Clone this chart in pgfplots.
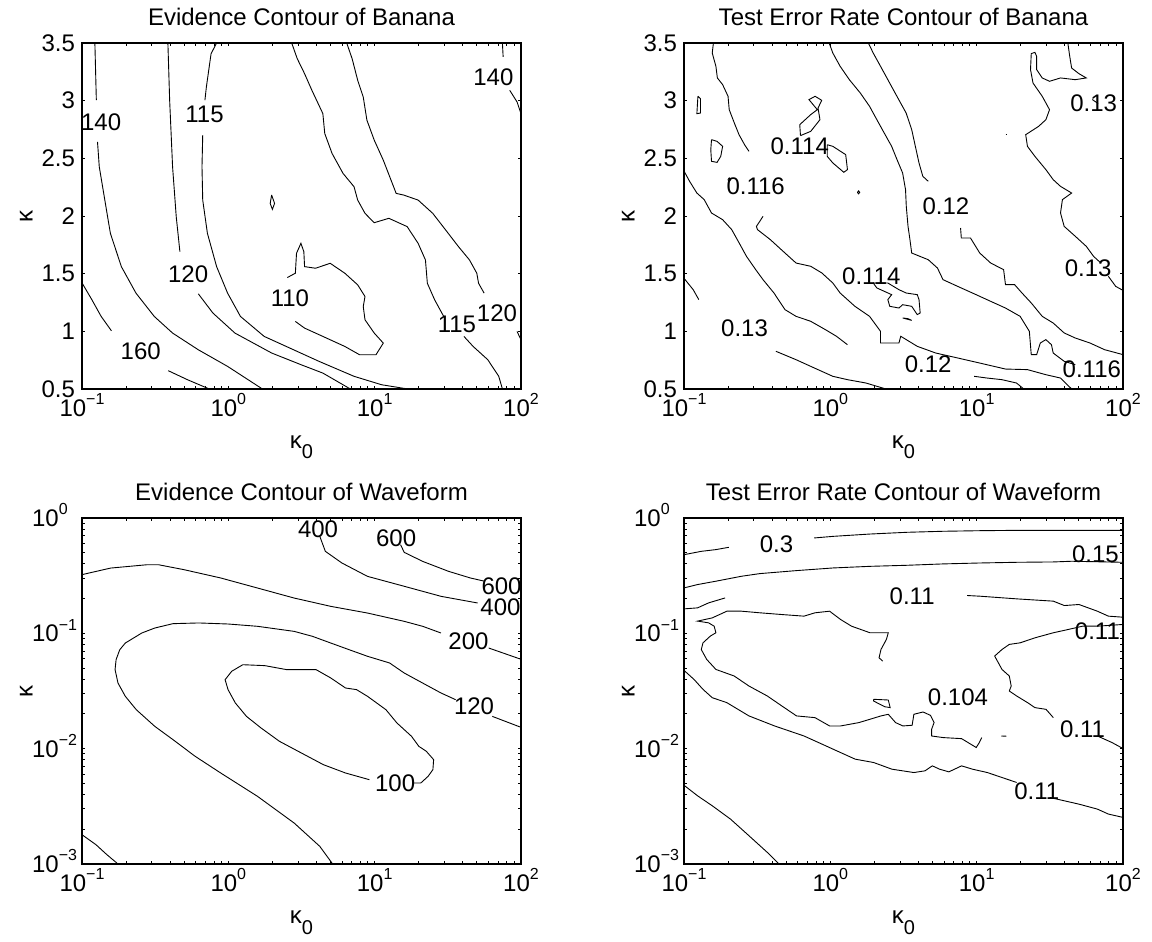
\documentclass[border=0pt]{standalone}
\usepackage{fontspec}
\setmainfont{Liberation Sans}
\usepackage{pgfplots}
\pgfplotsset{compat=1.18}

% power-of-ten tick label with a raised exponent
\newcommand\pw[1]{10\raisebox{5.8pt}{\fontsize{8}{9}\selectfont#1}}

% Both axes are drawn on log10 scales: x holds log10(kappa_0), and in the
% Waveform panels y holds log10(kappa). Tick labels show the powers of ten.
\pgfplotsset{
  panel/.style={
    scale only axis, width=219.5pt, height=173pt,
    clip=false,
    axis line style={line width=0.7pt},
    tick style={black, line width=0.5pt},
    major tick length=1.6pt, minor tick length=1.6pt,
    tick align=inside,
    xmin=-1, xmax=2,
    xtick={-1,0,1,2},
    xticklabels={\pw{−1},\pw{0},\pw{1},\pw{2}},
    minor xtick={-0.699,-0.523,-0.398,-0.301,-0.222,-0.155,-0.097,-0.046,
                 0.301,0.477,0.602,0.699,0.778,0.845,0.903,0.954,
                 1.301,1.477,1.602,1.699,1.778,1.845,1.903,1.954},
    xticklabel style={anchor=base, yshift=-13.6pt},
    xlabel={κ\raisebox{-5.5pt}{\fontsize{10}{11}\selectfont 0}},
    ylabel={κ},
    every axis x label/.style={at={(axis description cs:0.5,0)}, anchor=base, yshift=-29.5pt},
    every axis y label/.style={at={(axis description cs:-0.127,0.5)}, anchor=center, rotate=90},
    every axis title/.style={at={(axis description cs:0.5,1)}, anchor=base, yshift=8.8pt},
    cycle list={{black}},
    no markers,
    every axis plot/.append style={black, line width=0.45pt},
  },
  linpanel/.style={
    ymin=0.5, ymax=3.5,
    ytick={0.5,1,1.5,2,2.5,3,3.5},
    yticklabels={0.5,1,1.5,2,2.5,3,3.5},
  },
  logpanel/.style={
    ymin=-3, ymax=0,
    ytick={-3,-2,-1,0},
    yticklabels={\pw{−3},\pw{−2},\pw{−1},\pw{0}},
    minor ytick={-2.699,-2.523,-2.398,-2.301,-2.222,-2.155,-2.097,-2.046,
                 -1.699,-1.523,-1.398,-1.301,-1.222,-1.155,-1.097,-1.046,
                 -0.699,-0.523,-0.398,-0.301,-0.222,-0.155,-0.097,-0.046},
    yticklabel style={anchor=base west, xshift=-28.5pt, yshift=-4.2pt},
  },
}

\begin{document}
\begin{tikzpicture}[font=\fontsize{12}{14}\selectfont]
\useasboundingbox (0,0) rectangle (576pt,-471pt);

% ---------------- Evidence, Banana ----------------
\begin{axis}[panel, linpanel, at={(41pt,-21.5pt)}, anchor=north west,
  title={Evidence Contour of Banana}]
\addplot coordinates {(-0.912,3.5) (-0.902,3.004)};
\addplot coordinates {(-0.894,2.643) (-0.882,2.427) (-0.844,2.138) (-0.806,1.85) (-0.731,1.561) (-0.631,1.331) (-0.506,1.129) (-0.381,0.985) (-0.205,0.84) (-0.005,0.696) (0.233,0.5)};
\addplot coordinates {(-0.413,3.5) (-0.401,3.004) (-0.381,2.427) (-0.356,1.994) (-0.331,1.691)};
\addplot coordinates {(-0.205,1.325) (-0.105,1.158) (0.045,0.985) (0.296,0.812) (0.496,0.711) (0.646,0.638) (0.834,0.5)};
\addplot coordinates {(-0.08,3.5) (-0.118,3.407) (-0.15,3.119) (-0.16,3.004)};
\addplot coordinates {(-0.175,2.701) (-0.18,2.427) (-0.175,2.138) (-0.143,1.85) (-0.08,1.561) (-0.005,1.331) (0.083,1.129) (0.245,0.956) (0.446,0.84) (0.621,0.739) (0.859,0.61) (1.047,0.537) (1.227,0.5)};
\addplot coordinates {(0.403,1.466) (0.458,1.504) (0.466,1.677) (0.496,1.763) (0.516,1.691) (0.521,1.561) (0.596,1.547) (0.696,1.59) (0.796,1.504) (0.884,1.403) (0.934,1.302) (0.922,1.215) (0.934,1.1) (0.997,0.985) (1.059,0.898) (1.009,0.797) (0.897,0.797) (0.796,0.869) (0.646,0.956) (0.521,1.028) (0.458,1.086)};
\addplot coordinates {(0.296,2.182) (0.316,2.109) (0.301,2.058) (0.286,2.109) (0.296,2.182)};
\addplot coordinates {(0.433,3.5) (0.471,3.364) (0.521,3.234) (0.571,3.09) (0.646,2.888) (0.659,2.715) (0.709,2.542) (0.784,2.369) (0.859,2.254) (0.884,2.138) (0.934,2.023) (0.997,1.942) (1.097,1.98) (1.222,1.908) (1.297,1.763) (1.347,1.619) (1.36,1.417) (1.41,1.273) (1.472,1.129)};
\addplot coordinates {(1.61,0.956) (1.673,0.869) (1.773,0.754) (1.848,0.61) (1.873,0.5)};
\addplot coordinates {(0.809,3.5) (0.846,3.364) (0.884,3.177) (0.922,3.032) (0.947,2.831) (0.997,2.658) (1.059,2.484) (1.147,2.196) (1.197,2.182) (1.297,2.138) (1.397,2.023) (1.485,1.879) (1.573,1.734) (1.648,1.619) (1.698,1.504) (1.71,1.417) (1.748,1.331)};
\addplot coordinates {(1.973,0.999) (2.0,0.927)};
\addplot coordinates {(1.873,3.5) (1.878,3.379)};
\addplot coordinates {(1.923,3.09) (1.973,2.989) (2.0,2.888)};
\addplot coordinates {(-1,1.42) (-0.932,1.273) (-0.869,1.129) (-0.799,1.005)};
\addplot coordinates {(-0.411,0.659) (-0.28,0.581) (-0.13,0.5)};
\node at (axis cs:-0.869,2.816) {140};
\node at (axis cs:-0.163,2.88) {115};
\node at (axis cs:-0.275,1.498) {120};
\node at (axis cs:0.421,1.287) {110};
\node at (axis cs:-0.599,0.826) {160};
\node at (axis cs:1.562,1.057) {115};
\node at (axis cs:1.836,1.158) {120};
\node at (axis cs:1.811,3.205) {140};
\end{axis}

% ---------------- Test error, Banana ----------------
\begin{axis}[panel, linpanel, at={(342pt,-21.5pt)}, anchor=north west,
  title={Test Error Rate Contour of Banana}]
\addplot coordinates {(-0.799,3.5) (-0.807,3.413) (-0.782,3.298) (-0.772,3.197) (-0.736,3.139) (-0.699,3.038) (-0.691,2.922) (-0.656,2.806) (-0.624,2.705) (-0.586,2.618) (-0.556,2.561)};
\addplot coordinates {(-0.905,3.038) (-0.887,3.017) (-0.887,2.893) (-0.912,2.887) (-0.905,3.038)};
\addplot coordinates {(-0.812,2.662) (-0.774,2.647) (-0.736,2.604) (-0.749,2.517) (-0.774,2.465) (-0.812,2.474) (-0.817,2.575) (-0.812,2.662)};
\addplot coordinates {(-0.204,2.697) (-0.209,2.792) (-0.134,2.879) (-0.089,2.922) (-0.146,3.009) (-0.104,3.038) (-0.059,3.003) (-0.084,2.936) (-0.071,2.835) (-0.134,2.734) (-0.204,2.697)};
\addplot coordinates {(-0.021,2.618) (0.017,2.604) (0.105,2.532) (0.117,2.402) (0.092,2.379) (0.017,2.46) (-0.021,2.517) (-0.021,2.618)};
\addplot coordinates {(-0.7,2.315) (-0.691,2.33) (-0.682,2.315) (-0.691,2.3) (-0.7,2.315)};
\addplot coordinates {(0.185,2.205) (0.193,2.218) (0.201,2.205) (0.193,2.192) (0.185,2.205)};
\addplot coordinates {(1.198,2.705) (1.206,2.705)};
\addplot coordinates {(0.26,3.5) (0.293,3.413) (0.343,3.298) (0.393,3.182) (0.455,3.038) (0.518,2.893) (0.556,2.749) (0.581,2.604) (0.606,2.46) (0.632,2.344) (0.669,2.301)};
\addplot coordinates {(0.89,1.896) (0.895,1.809) (0.958,1.809) (1.021,1.679) (1.096,1.592) (1.184,1.535) (1.197,1.405) (1.259,1.405) (1.31,1.332) (1.373,1.246) (1.448,1.13) (1.523,1.072) (1.598,0.986) (1.674,0.942) (1.774,0.899) (1.874,0.841) (2.0,0.798)};
\addplot coordinates {(-0.008,3.5) (0.017,3.413) (0.067,3.298) (0.13,3.182) (0.205,3.066) (0.268,2.951) (0.318,2.835) (0.368,2.72) (0.419,2.604) (0.456,2.488) (0.494,2.373) (0.514,2.228) (0.519,2.084) (0.531,1.91) (0.544,1.795) (0.556,1.679) (0.669,1.621) (0.732,1.549) (0.77,1.448) (0.87,1.39) (0.996,1.318) (1.096,1.26) (1.197,1.202) (1.297,1.13) (1.36,1.0) (1.373,0.798) (1.41,0.798) (1.435,0.899) (1.473,0.928) (1.511,0.884) (1.523,0.812) (1.598,0.74) (1.674,0.711)};
\addplot coordinates {(-1,2.39) (-0.962,2.301) (-0.912,2.199) (-0.862,2.142) (-0.812,2.026) (-0.736,1.968) (-0.674,1.882) (-0.623,1.766) (-0.573,1.65) (-0.51,1.535) (-0.46,1.448) (-0.385,1.332) (-0.31,1.188) (-0.234,1.13) (-0.134,1.087) (-0.033,1.014) (0.042,0.957) (0.117,0.884)};
\addplot coordinates {(-0.46,1.997) (-0.505,1.91) (-0.498,1.882) (-0.41,1.795) (-0.335,1.708) (-0.234,1.592) (-0.134,1.564) (-0.058,1.506) (0.017,1.419) (0.067,1.332) (0.168,1.217) (0.268,1.13) (0.343,1.0) (0.343,0.899) (0.469,0.899) (0.481,0.957) (0.519,0.928) (0.594,0.87) (0.72,0.812) (0.87,0.769) (1.021,0.725) (1.197,0.673) (1.347,0.668) (1.473,0.624) (1.573,0.595) (1.649,0.5)};
\addplot coordinates {(-1,1.46) (-0.937,1.361) (-0.899,1.275)};
\addplot coordinates {(-0.372,0.827) (-0.234,0.754) (-0.109,0.682) (0.017,0.61) (0.117,0.581) (0.243,0.552) (0.38,0.5)};
\addplot coordinates {(0.983,0.61) (1.071,0.595) (1.172,0.581) (1.272,0.552) (1.322,0.5)};
\addplot coordinates {(0.293,1.419) (0.393,1.419) (0.469,1.361) (0.519,1.332) (0.594,1.318) (0.606,1.275) (0.614,1.159) (0.594,1.145) (0.556,1.217) (0.494,1.231) (0.469,1.202) (0.406,1.217) (0.393,1.275) (0.419,1.318) (0.318,1.376) (0.293,1.419)};
\addplot coordinates {(0.494,1.116) (0.556,1.095) (0.53,1.11) (0.494,1.116)};
\addplot coordinates {(1.623,3.5) (1.636,3.384) (1.649,3.283) (1.699,3.234) (1.749,3.197) (1.674,3.182) (1.573,3.197) (1.498,3.168) (1.448,3.197) (1.41,3.269) (1.41,3.384) (1.398,3.419) (1.373,3.408) (1.368,3.269) (1.385,3.153) (1.448,3.038) (1.498,2.922) (1.473,2.835) (1.423,2.777) (1.335,2.705) (1.347,2.604) (1.398,2.517) (1.473,2.402) (1.523,2.315) (1.573,2.257) (1.649,2.199) (1.586,2.142) (1.573,2.026) (1.598,1.91) (1.674,1.824) (1.749,1.737) (1.799,1.65) (1.849,1.592)};
\addplot coordinates {(1.9,1.477) (1.95,1.39) (2.0,1.355)};
\addplot coordinates {(1.79,3.01) (1.83,2.975)};
\node at (axis cs:-0.209,2.604) {0.114};
\node at (axis cs:-0.51,2.257) {0.116};
\node at (axis cs:0.79,2.084) {0.12};
\node at (axis cs:1.8,2.98) {0.13};
\node at (axis cs:1.762,1.549) {0.13};
\node at (axis cs:0.28,1.477) {0.114};
\node at (axis cs:-0.586,1.029) {0.13};
\node at (axis cs:0.669,0.711) {0.12};
\node at (axis cs:1.787,0.668) {0.116};
\end{axis}

% ---------------- Evidence, Waveform ----------------
\begin{axis}[panel, logpanel, at={(41pt,-259pt)}, anchor=north west,
  title={Evidence Contour of Waveform}]
\addplot coordinates {(0.625,-0.159) (0.663,-0.289) (0.776,-0.39) (0.951,-0.506) (1.202,-0.592) (1.453,-0.679) (1.704,-0.737)};
\addplot coordinates {(1.177,-0.231) (1.202,-0.298) (1.328,-0.376) (1.504,-0.462) (1.654,-0.52) (1.754,-0.549)};
\addplot coordinates {(-1,-0.491) (-0.804,-0.434) (-0.554,-0.405) (-0.478,-0.405) (-0.303,-0.448) (-0.052,-0.52) (0.199,-0.607) (0.45,-0.694) (0.7,-0.766) (0.951,-0.824) (1.202,-0.896) (1.328,-0.939) (1.453,-0.997)};
\addplot coordinates {(1.779,-1.127) (2.0,-1.225)};
\addplot coordinates {(2.0,-1.815) (1.804,-1.72)};
\addplot coordinates {(1.553,-1.575) (1.453,-1.517) (1.328,-1.431) (1.202,-1.344) (1.102,-1.257) (0.951,-1.199) (0.826,-1.142) (0.7,-1.084) (0.575,-1.026) (0.45,-0.983) (0.199,-0.939) (-0.002,-0.919) (-0.202,-0.91) (-0.378,-0.916) (-0.503,-0.954) (-0.591,-0.997) (-0.704,-1.084) (-0.742,-1.142) (-0.767,-1.228) (-0.774,-1.315) (-0.754,-1.431) (-0.704,-1.546) (-0.629,-1.662) (-0.503,-1.806) (-0.378,-1.922) (-0.227,-2.066) (-0.052,-2.211) (0.199,-2.413) (0.45,-2.645) (0.625,-2.847) (0.713,-3.0)};
\addplot coordinates {(0.964,-2.269) (0.801,-2.211) (0.65,-2.139) (0.5,-2.038) (0.349,-1.936) (0.224,-1.821) (0.124,-1.72) (0.048,-1.604) (-0.002,-1.488) (-0.022,-1.402) (0.023,-1.329) (0.099,-1.272) (0.249,-1.28) (0.4,-1.315) (0.6,-1.315) (0.7,-1.387) (0.801,-1.474) (0.876,-1.488) (0.951,-1.546) (1.077,-1.662) (1.152,-1.777) (1.252,-1.893) (1.302,-1.98) (1.353,-2.023) (1.403,-2.095) (1.398,-2.182) (1.365,-2.24) (1.315,-2.298) (1.265,-2.298)};
\addplot coordinates {(-1,-2.746) (-0.905,-2.832) (-0.83,-2.919) (-0.754,-3.0)};
\node at (axis cs:0.613,-0.101) {400};
\node at (axis cs:1.147,-0.173) {600};
\node at (axis cs:1.867,-0.592) {600};
\node at (axis cs:1.86,-0.775) {400};
\node at (axis cs:1.641,-1.069) {200};
\node at (axis cs:1.679,-1.633) {120};
\node at (axis cs:1.14,-2.298) {100};
\end{axis}

% ---------------- Test error, Waveform ----------------
\begin{axis}[panel, logpanel, at={(342pt,-259pt)}, anchor=north west,
  title={Test Error Rate Contour of Waveform}]
\addplot coordinates {(-1,-0.318) (-0.882,-0.289) (-0.782,-0.274) (-0.694,-0.254)};
\addplot coordinates {(-0.11,-0.173) (0.02,-0.159) (0.271,-0.139) (0.521,-0.124) (0.772,-0.115) (1.023,-0.11) (1.273,-0.107) (2.0,-0.107)};
\addplot coordinates {(-1,-0.606) (-0.907,-0.577) (-0.782,-0.548) (-0.607,-0.505) (-0.481,-0.482) (-0.231,-0.456) (0.02,-0.433) (0.271,-0.419) (0.521,-0.41) (0.772,-0.398) (1.023,-0.39) (1.273,-0.384) (1.524,-0.381) (1.649,-0.375) (2.0,-0.384)};
\addplot coordinates {(-1,-0.788) (-0.907,-0.779) (-0.832,-0.736) (-0.719,-0.693)};
\addplot coordinates {(0.935,-0.672) (1.023,-0.678) (1.273,-0.701) (1.524,-0.721) (1.599,-0.759) (1.699,-0.75) (1.825,-0.808) (1.9,-0.851) (2.0,-0.86)};
\addplot coordinates {(0.358,-1.241) (0.333,-1.212) (0.346,-1.14) (0.383,-1.053) (0.396,-0.995) (0.271,-0.995) (0.145,-0.938) (0.07,-0.88) (-0.005,-0.808) (-0.105,-0.822) (-0.18,-0.851) (-0.331,-0.837) (-0.481,-0.822) (-0.607,-0.808) (-0.707,-0.808) (-0.807,-0.866) (-0.907,-0.894) (-0.832,-0.909) (-0.794,-0.938) (-0.782,-0.995) (-0.82,-1.024) (-0.87,-1.082) (-0.882,-1.14) (-0.845,-1.226) (-0.782,-1.313) (-0.657,-1.37) (-0.556,-1.457) (-0.431,-1.543) (-0.331,-1.63) (-0.231,-1.716) (-0.105,-1.731) (-0.005,-1.803) (0.07,-1.803) (0.195,-1.774) (0.271,-1.745) (0.346,-1.716) (0.396,-1.702) (0.446,-1.774) (0.496,-1.803) (0.559,-1.797) (0.571,-1.702) (0.634,-1.682) (0.684,-1.711) (0.709,-1.774) (0.692,-1.832) (0.692,-1.89) (0.772,-1.904) (0.897,-1.913) (0.997,-1.99) (1.018,-1.947) (1.035,-1.904)};
\addplot coordinates {(0.296,-1.572) (0.396,-1.578) (0.409,-1.644) (0.371,-1.636) (0.296,-1.587) (0.296,-1.572)};
\addplot coordinates {(1.168,-1.89) (1.203,-1.892)};
\addplot coordinates {(2.0,-0.923) (1.825,-0.938) (1.724,-0.938) (1.624,-0.967) (1.524,-0.995) (1.398,-1.039) (1.298,-1.082) (1.223,-1.096) (1.173,-1.14) (1.123,-1.197) (1.148,-1.255) (1.173,-1.313) (1.223,-1.37) (1.236,-1.457) (1.223,-1.5) (1.273,-1.543) (1.348,-1.601) (1.398,-1.644) (1.474,-1.659) (1.524,-1.731)};
\addplot coordinates {(1.825,-1.89) (1.925,-1.947) (2.0,-1.999)};
\addplot coordinates {(-0.995,-1.327) (-0.932,-1.399) (-0.87,-1.486) (-0.807,-1.558) (-0.707,-1.601) (-0.556,-1.716) (-0.381,-1.803) (-0.18,-1.89) (-0.03,-1.976) (0.02,-2.005) (0.17,-2.091) (0.296,-2.12) (0.421,-2.178) (0.571,-2.207) (0.647,-2.192) (0.697,-2.149) (0.747,-2.178) (0.81,-2.201) (0.897,-2.149) (0.972,-2.178) (1.073,-2.207) (1.173,-2.25) (1.273,-2.293)};
\addplot coordinates {(1.499,-2.423) (1.599,-2.452) (1.699,-2.481) (1.825,-2.524) (1.9,-2.567) (2.0,-2.596)};
\addplot coordinates {(-0.995,-2.322) (-0.907,-2.409) (-0.807,-2.495) (-0.682,-2.611) (-0.556,-2.755) (-0.431,-2.899) (-0.356,-2.994)};
\node at (axis cs:-0.368,-0.231) {0.3};
\node at (axis cs:1.812,-0.318) {0.15};
\node at (axis cs:0.559,-0.678) {0.11};
\node at (axis cs:1.825,-0.981) {0.11};
\node at (axis cs:0.872,-1.558) {0.104};
\node at (axis cs:1.724,-1.832) {0.11};
\node at (axis cs:1.411,-2.365) {0.11};
\end{axis}
\end{tikzpicture}
\end{document}
